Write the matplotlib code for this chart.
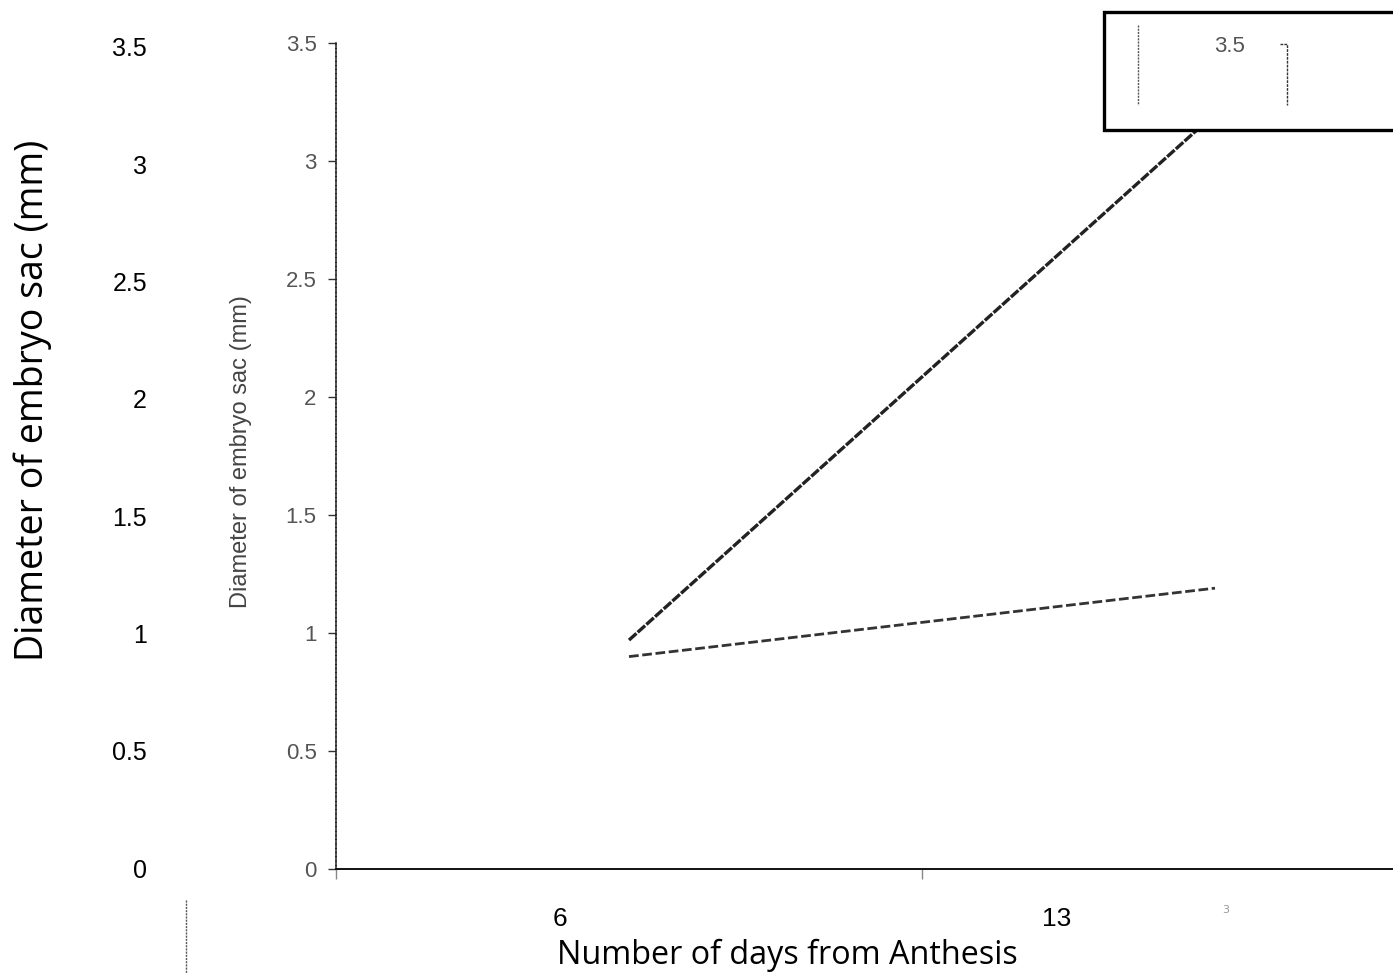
import matplotlib

matplotlib.use("Agg")
import matplotlib.pyplot as plt
from matplotlib.lines import Line2D
from matplotlib.patches import Rectangle

# data
days = ["6", "13"]
diam_solid = [0.97, 3.20]
diam_dashed = [0.90, 1.19]
y_ticks = [0, 0.5, 1, 1.5, 2, 2.5, 3, 3.5]
y_tick_labels = ["0", "0.5", "1", "1.5", "2", "2.5", "3", "3.5"]

W, H = 1393, 974


def fx(px):
    return px / W


def fy(py):
    return 1 - py / H


fig = plt.figure(figsize=(W / 100, H / 100), dpi=100)
fig.patch.set_facecolor("white")

# outer (redrawn) scale, sits behind the pasted inner chart
outer = fig.add_axes([fx(186), fy(868), fx(1393) - fx(186), fy(47) - fy(868)])
outer.set_facecolor("none")
for s in outer.spines.values():
    s.set_visible(False)
outer.set_ylim(0, 3.5)
outer.set_xlim(-0.7525, 1.676)
outer.set_yticks(y_ticks, y_tick_labels, fontsize=18, family="Liberation Sans")
outer.set_xticks([0, 1], days, fontsize=19, family="Liberation Sans")
outer.tick_params(axis="y", length=0, pad=28)
outer.tick_params(axis="x", length=0, pad=28)

fig.text(fx(33), fy(400), "Diameter of embryo sac (mm)", rotation=90,
         ha="center", va="center", fontsize=27, family="Open Sans")
fig.text(fx(787), fy(955), "Number of days from Anthesis",
         ha="center", va="center", fontsize=23.3, family="Open Sans")

# inner chart (categorical x axis)
ax = fig.add_axes([fx(336), fy(869), fx(1508) - fx(336), fy(43) - fy(869)])
ax.set_facecolor("none")
x = list(range(len(days)))
ax.plot(x, diam_solid, color="#222222", lw=2.4, linestyle=(0, (3, 0.5)), zorder=3)
ax.plot(x, diam_dashed, color="#333333", lw=2.0, linestyle=(0, (3.5, 1.3)), zorder=3)
ax.set_xlim(-0.5, 1.5)
ax.set_ylim(0, 3.5)
ax.spines["top"].set_visible(False)
ax.spines["right"].set_visible(False)
ax.spines["left"].set_linestyle((0, (2, 0.8)))
ax.spines["left"].set_color("#222222")
ax.spines["left"].set_linewidth(1.1)
ax.spines["bottom"].set_color("#111111")
ax.spines["bottom"].set_linewidth(1.4)
ax.set_yticks(y_ticks, y_tick_labels, fontsize=16, family="Liberation Sans", color="#555555")
ax.set_xticks([-0.5, 0.5], ["", ""])
ax.tick_params(axis="y", direction="out", length=6, width=1, color="#333333", pad=8)
ax.tick_params(axis="x", direction="out", length=7, width=1, color="#888888")
ax.set_ylabel("Diameter of embryo sac (mm)", fontsize=17, family="Liberation Sans", color="#444444")
ax.yaxis.set_label_coords(-0.072, 0.505)
fig.text(fx(1226), fy(910), "3", fontsize=8, color="#999999", ha="center", va="center")

# pasted box at top right
box = Rectangle((fx(1104), fy(130)), fx(1420) - fx(1104), fy(12) - fy(130),
                transform=fig.transFigure, facecolor="white", edgecolor="black",
                linewidth=2.4, zorder=5)
fig.add_artist(box)
fig.add_artist(Line2D([fx(1138), fx(1138)], [fy(25), fy(105)], color="#555555",
                      lw=1, linestyle=(0, (1.5, 0.8)), zorder=6))
fig.add_artist(Line2D([fx(1280), fx(1287), fx(1287)], [fy(44), fy(44), fy(105)],
                      color="#333333", lw=1, linestyle=(0, (2, 0.8)), zorder=6))
fig.text(fx(1230), fy(47), "3.5", fontsize=16, family="Liberation Sans", color="#555555",
         ha="center", va="center", zorder=6)

# stray dotted line at the bottom left
fig.add_artist(Line2D([fx(186), fx(186)], [fy(900), fy(974)], color="#555555",
                      lw=1, linestyle=(0, (1.5, 0.8))))

fig.savefig("out.png", dpi=100)
